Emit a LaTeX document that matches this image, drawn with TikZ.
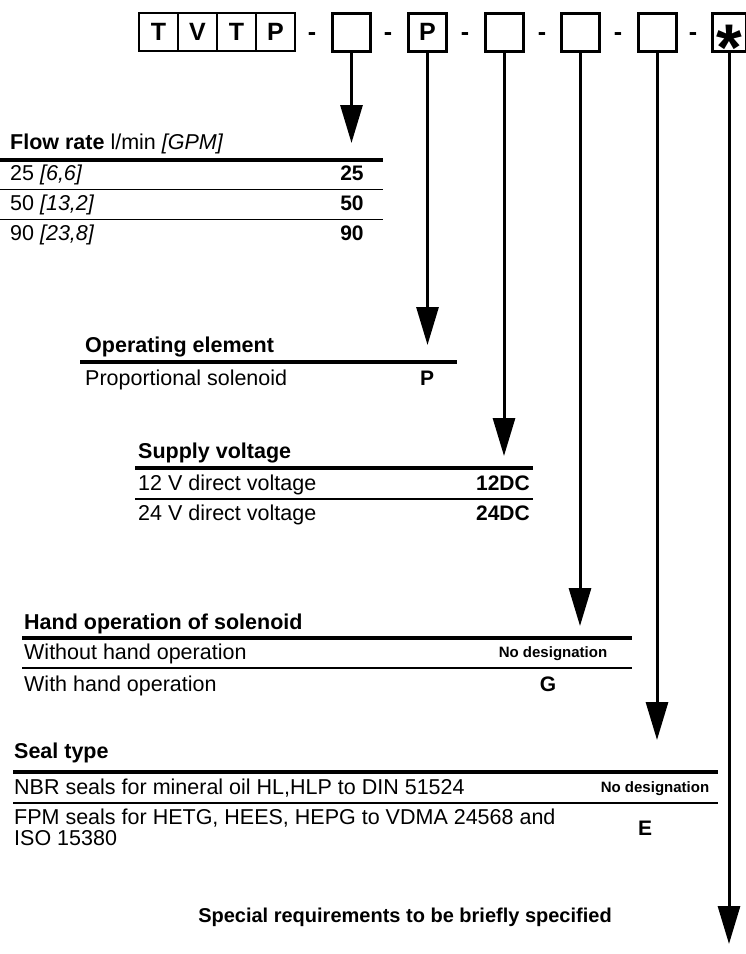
\documentclass[tikz,border=0pt]{standalone}
\usepackage{fontspec}
\setmainfont{Liberation Sans}
\usetikzlibrary{arrows.meta}

\begin{document}
\begin{tikzpicture}[x=1pt, y=-1pt,
    cell/.style={draw, line width=2.5pt, minimum width=39pt, minimum height=38pt, inner sep=0pt, font=\fontsize{25}{25}\selectfont\bfseries},
    codebox/.style={draw, line width=3pt, minimum width=38pt, minimum height=38pt, inner sep=0pt, font=\fontsize{25}{25}\selectfont\bfseries},
    dashmark/.style={inner sep=0pt, font=\fontsize{25}{25}\selectfont\bfseries},
    pointer/.style={-{Triangle[width=22pt,length=38pt]}, line width=3pt},
    heading/.style={anchor=base west, inner sep=0pt, font=\fontsize{21.5}{25}\selectfont\bfseries},
    entry/.style={anchor=base west, inner sep=0pt, font=\fontsize{21.5}{25}\selectfont},
    code/.style={anchor=base, inner sep=0pt, font=\fontsize{21}{25}\selectfont\bfseries},
    smallcode/.style={anchor=base, inner sep=0pt, font=\fontsize{15}{18}\selectfont\bfseries},
    thickrule/.style={line width=4pt},
    thinrule/.style={line width=1.2pt},
]
\useasboundingbox (0,0) rectangle (746,954);

% Header
\foreach \c [count=\i] in {T,V,T,P} {
    \node[cell] (g\i) at ({119.5+39*\i}, 32) {\c};
}
\node[codebox] (b1) at (351.5,32) {};
\node[codebox] (b2) at (427.5,32) {P};
\node[codebox] (b3) at (504,32) {};
\node[codebox] (b4) at (580,32) {};
\node[codebox] (b5) at (657,32) {};
\node[codebox, minimum width=34pt] (b6) at (729,32) {};
\node[anchor=base, inner sep=0pt, font=\fontsize{66}{66}\selectfont\bfseries] (star) at (729,70) {*};
\foreach \x [count=\i] in {312,388,465,542,618,693} {
    \node[dashmark] (d\i) at (\x,37) {-};
}

% Arrow tips
\coordinate (t1) at (351.5,143);
\coordinate (t2) at (427.5,345);
\coordinate (t3) at (504,456);
\coordinate (t4) at (580,626);
\coordinate (t5) at (657,740);
\coordinate (t6) at (729,944);
\foreach \i in {1,...,6} {
    \draw[pointer] (b\i.south) -- (t\i);
}

% Flow rate
\node[heading] (flow) at (10,149) {Flow rate \mdseries l/min \itshape [GPM]};
\draw[thickrule] (0,160) -- (383,160);
\draw[thinrule] (0,189.5) -- (383,189.5);
\draw[thinrule] (0,219.5) -- (383,219.5);
\node[entry] (f1) at (10,180) {25 \textit{[6,6]}};
\node[entry] (f2) at (10,210) {50 \textit{[13,2]}};
\node[entry] (f3) at (10,240) {90 \textit{[23,8]}};
\node[code] (c1) at (352,180) {25};
\node[code] (c2) at (352,210) {50};
\node[code] (c3) at (352,240) {90};

% Operating element
\node[heading] (oper) at (85,352) {Operating element};
\draw[thickrule] (80,362) -- (457,362);
\node[entry] (o1) at (85,385) {Proportional solenoid};
\node[code] (co1) at (427,385) {P};

% Supply voltage
\node[heading] (supply) at (138,458) {Supply voltage};
\draw[thickrule] (135,468) -- (533,468);
\draw[thinrule] (135,499) -- (533,499);
\node[entry] (s1) at (138,490) {12 V direct voltage};
\node[entry] (s2) at (138,520) {24 V direct voltage};
\node[code, anchor=base east] (cs1) at (530,490) {12DC};
\node[code, anchor=base east] (cs2) at (530,520) {24DC};

% Hand operation
\node[heading] (hand) at (24,629) {Hand operation of solenoid};
\draw[thickrule] (22,638) -- (632,638);
\draw[thinrule] (22,668) -- (632,668);
\node[entry] (h1) at (24,659) {Without hand operation};
\node[entry] (h2) at (24,691) {With hand operation};
\node[smallcode] (ch1) at (553,657) {No designation};
\node[code] (ch2) at (548,691) {G};

% Seal type
\node[heading] (seal) at (14,758) {Seal type};
\draw[thickrule] (13,772) -- (718,772);
\draw[thinrule] (13,803) -- (718,803);
\node[entry] (e1) at (14,794) {NBR seals for mineral oil HL,HLP to DIN 51524};
\node[entry] (e2) at (14,824) {FPM seals for HETG, HEES, HEPG to VDMA 24568 and};
\node[entry] (e3) at (14,845) {ISO 15380};
\node[smallcode] (ce1) at (655,792) {No designation};
\node[code] (ce2) at (645,835) {E};

\node[code, font=\fontsize{20}{24}\selectfont\bfseries] (special) at (405,922) {Special requirements to be briefly specified};
\end{tikzpicture}
\end{document}
